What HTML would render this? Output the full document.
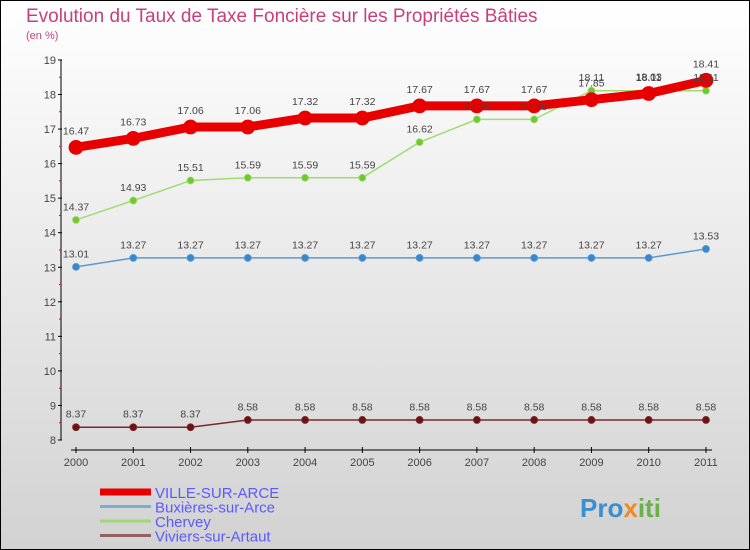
<!DOCTYPE html>
<html><head><meta charset="utf-8"><style>
body{margin:0;width:750px;height:550px;overflow:hidden}
svg{display:block;font-family:"Liberation Sans",sans-serif}
</style></head><body>
<svg width="750" height="550">
<defs><linearGradient id="bg" x1="0" y1="0" x2="0" y2="1"><stop offset="0" stop-color="#ffffff"/><stop offset="1" stop-color="#d2d2d2"/></linearGradient></defs>
<rect x="0.5" y="0.5" width="749" height="549" fill="url(#bg)" stroke="#000"/>
<text x="26" y="22" font-size="19" font-weight="300" fill="#c8407a">Evolution du Taux de Taxe Foncière sur les Propriétés Bâties</text>
<text x="26" y="39" font-size="11" fill="#c8407a">(en %)</text>
<g id="axes"></g><g id="series"></g><g id="labels"></g><g id="legend"></g>
<text x="580" y="517" font-size="26" font-weight="bold" fill="#3a8fd0">Pro<tspan fill="#f08a20">x</tspan><tspan fill="#6ab04c">iti</tspan></text>
</svg>
<script>
const years=["2000","2001","2002","2003","2004","2005","2006","2007","2008","2009","2010","2011"];
const yTicks=[8,9,10,11,12,13,14,15,16,17,18,19];
const ville=[16.47,16.73,17.06,17.06,17.32,17.32,17.67,17.67,17.67,17.85,18.03,18.41];
const buxieres=[13.01,13.27,13.27,13.27,13.27,13.27,13.27,13.27,13.27,13.27,13.27,13.53];
const chervey=[14.37,14.93,15.51,15.59,15.59,15.59,16.62,17.28,17.28,18.11,18.11,18.11];
const viviers=[8.37,8.37,8.37,8.58,8.58,8.58,8.58,8.58,8.58,8.58,8.58,8.58];
const seriesNames=["VILLE-SUR-ARCE","Buxières-sur-Arce","Chervey","Viviers-sur-Artaut"];
const NS="http://www.w3.org/2000/svg";
const X=i=>76+i*57.27;
const Y=v=>440-(v-8)*34.55;
function mk(tag,attrs,parent,txt){const e=document.createElementNS(NS,tag);for(const k in attrs)e.setAttribute(k,attrs[k]);if(txt!==undefined)e.textContent=txt;parent.appendChild(e);return e;}
const ax=document.getElementById('axes');
let e=mk('line',{x1:61,y1:Y(19),x2:61,y2:Y(8),stroke:'#000'},ax);


e=mk('line',{x1:71,y1:450,x2:712,y2:450,stroke:'#000'},ax);


yTicks.forEach(t=>{
 mk('line',{x1:58,y1:Y(t),x2:62,y2:Y(t),stroke:'#000'},ax);
 e=mk('text',{x:56,y:Y(t)+4,'font-size':11,fill:'#444','text-anchor':'end'},ax,String(t));
 
 
 if(t<19)mk('line',{x1:59,y1:Y(t+0.5),x2:61,y2:Y(t+0.5),stroke:'#e00'},ax);
});
years.forEach((y,i)=>{
 mk('line',{x1:X(i),y1:447,x2:X(i),y2:453,stroke:'#000'},ax);
 e=mk('text',{x:X(i),y:466,'font-size':11,fill:'#444','text-anchor':'middle'},ax,y);
 
 
});
const sg=document.getElementById('series');
const lb=document.getElementById('labels');
function draw(vals,color,dot,w,r,name){
 const g=mk('g',{},sg);
 
 
 const pl=mk('polyline',{points:vals.map((v,i)=>X(i)+','+Y(v)).join(' '),fill:'none',stroke:color,'stroke-width':w,'stroke-linejoin':'round'},g);
 
 
 vals.forEach((v,i)=>{
  const c=mk('circle',{cx:X(i),cy:Y(v),r:r,fill:dot,stroke:color,'stroke-width':0.8},g);
  
  
  const t=mk('text',{x:X(i),y:Y(v)-(r+6),'font-size':10.5,fill:'#444','text-anchor':'middle'},lb,v.toFixed(2).replace(/0$/,'').replace(/\.$/,''));
  
  
 });
}
draw(viviers,'#7a2a2a','#6a1515',1.5,3.5,'viviers');
draw(buxieres,'#5a9ad0','#3a88cc',1.5,3.5,'buxieres');
draw(chervey,'#a0dc70','#70c830',1.5,3.5,'chervey');
draw(ville,'#e80000','#e80000',9,7,'ville');
const lg=document.getElementById('legend');
const lc=['#e80000','#7aaed0','#a0d878','#946060'];const lw=[7,3,3,3];
seriesNames.forEach((n,i)=>{
 const y=492+i*14.5;
 e=mk('line',{x1:100,y1:y,x2:151,y2:y,stroke:lc[i],'stroke-width':lw[i]},lg);
 
 
 e=mk('text',{x:155,y:y+6,'font-size':15,fill:'#5a5aff'},lg,n);
 
 
});
</script>
</body></html>
